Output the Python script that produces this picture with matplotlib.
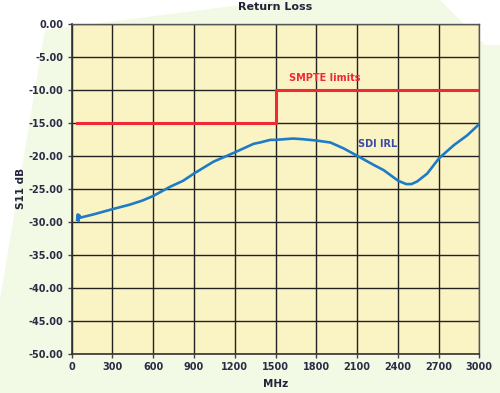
import numpy as np
import matplotlib
matplotlib.use('Agg')
import matplotlib.pyplot as plt
from matplotlib.patches import Polygon

# ── DATA ──────────────────────────────────────────────────────
freq_mhz = [40, 45, 50, 55, 60, 100, 159, 230, 300, 430, 520, 600, 725, 820, 900,
            1044, 1200, 1339, 1386, 1462, 1500, 1630, 1700, 1800, 1904, 2002, 2100,
            2223, 2297, 2403, 2462, 2500, 2543, 2617, 2703, 2813, 2912, 3000]
irl_db = [-29.7, -28.9, -29.9, -29.0, -29.4, -29.2, -28.9, -28.5, -28.1, -27.4, -26.8,
          -26.1, -24.7, -23.8, -22.7, -20.9, -19.5, -18.2, -18.0, -17.6, -17.6, -17.4,
          -17.5, -17.7, -18.0, -18.9, -20.0, -21.4, -22.2, -23.8, -24.3, -24.3, -23.9,
          -22.7, -20.4, -18.4, -16.9, -15.2]

smpte_mhz = [40, 1500, 1500, 3000]
smpte_db = [-15, -15, -10, -10]

x_ticks = [0, 300, 600, 900, 1200, 1500, 1800, 2100, 2400, 2700, 3000]
y_ticks = [0, -5, -10, -15, -20, -25, -30, -35, -40, -45, -50]

# ── STYLE ─────────────────────────────────────────────────────
narrow = ['Liberation Sans Narrow', 'DejaVu Sans']
label_col = '#2b2b45'

fig = plt.figure(figsize=(5.0, 3.93), dpi=100, facecolor='#f2f9e4')

# white decorative wedges in the background
bg = fig.add_axes([0, 0, 1, 1], zorder=-10)
bg.set_xlim(0, 500)
bg.set_ylim(393, 0)
bg.axis('off')
bg.add_patch(Polygon([(0, 0), (280, 0), (45, 30), (0, 300)], closed=True,
                     facecolor='white', edgecolor='none'))
bg.add_patch(Polygon([(440, 0), (500, 0), (500, 45), (485, 45)], closed=True,
                     facecolor='white', edgecolor='none'))

ax = fig.add_axes([0.1434, 0.1, 0.8152, 0.8397])
ax.set_facecolor('#faf4c4')

ax.plot(smpte_mhz, smpte_db, color='#ee2a36', linewidth=2.2, zorder=3)
ax.plot(freq_mhz, irl_db, color='#1e7bc6', linewidth=1.9, zorder=3)

ax.text(1860, -8.2, 'SMPTE limits', color='#ee2a36', fontsize=7,
        fontweight='bold', family=narrow, ha='center', va='center')
ax.text(2254, -18.3, 'SDI IRL', color='#3a4aa8', fontsize=7,
        fontweight='bold', family=narrow, ha='center', va='center')

ax.set_xlim(0, 3000)
ax.set_ylim(-50, 0)
ax.set_xticks(x_ticks)
ax.set_yticks(y_ticks)
ax.set_xticklabels([str(v) for v in x_ticks])
ax.set_yticklabels(['%.2f' % abs(v) if v == 0 else '%.2f' % v for v in y_ticks])
ax.grid(True, color='#222222', linewidth=1.0)
ax.set_axisbelow(True)

for lab in ax.get_xticklabels() + ax.get_yticklabels():
    lab.set_family(narrow)
    lab.set_fontweight('bold')
    lab.set_fontsize(7)
    lab.set_color(label_col)
ax.tick_params(axis='both', length=3, width=1, color='#444444', pad=3)

for side in ['left', 'bottom']:
    ax.spines[side].set_color('#333333')
    ax.spines[side].set_linewidth(1.2)
for side in ['top', 'right']:
    ax.spines[side].set_color('#555555')
    ax.spines[side].set_linewidth(1.0)

ax.set_title('Return Loss', fontsize=8, fontweight='bold', family=narrow,
             color='#22223a', pad=10)
ax.set_xlabel('MHz', fontsize=7.5, fontweight='bold', family=narrow,
              color='#22223a', labelpad=5)
ax.set_ylabel('S11 dB', fontsize=7.5, fontweight='bold', family=narrow,
              color='#22223a', labelpad=2)

fig.savefig('out.png', dpi=100, facecolor=fig.get_facecolor())
